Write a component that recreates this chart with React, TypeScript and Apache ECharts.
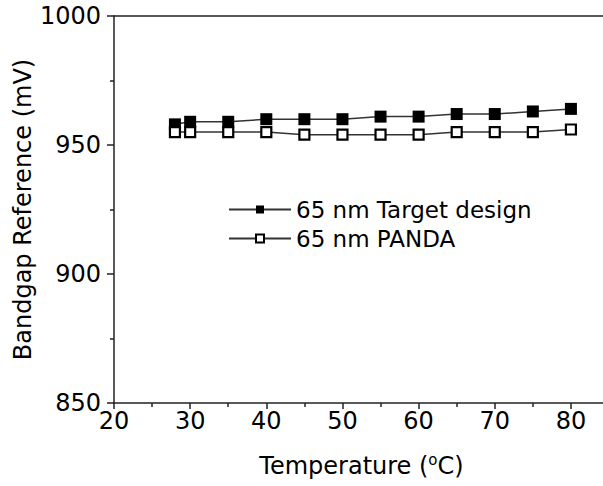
import React, { useEffect, useRef } from "react";
import * as echarts from "echarts";

const temperatures = [28, 30, 35, 40, 45, 50, 55, 60, 65, 70, 75, 80];
const targetDesign = [958, 959, 959, 960, 960, 960, 961, 961, 962, 962, 963, 964];
const panda = [955, 955, 955, 955, 954, 954, 954, 954, 955, 955, 955, 956];
const seriesNames = ["65 nm Target design", "65 nm PANDA"];

export default function App() {
  const ref = useRef<HTMLDivElement>(null);
  useEffect(() => {
    if (!ref.current) return;
    const chart = echarts.init(ref.current, undefined, { renderer: "svg" });
    const font = "'DejaVu Sans', sans-serif";
    const axisLine = { show: true, lineStyle: { color: "#222", width: 1.5 } };
    chart.setOption({
      animation: false,
      backgroundColor: "#fff",
      grid: { left: 114, top: 16, bottom: 83, right: -6, containLabel: false, outerBoundsMode: "none" },
      legend: {
        orient: "vertical",
        left: 223,
        top: 193,
        itemWidth: 62,
        itemHeight: 10,
        itemGap: 6,
        textStyle: { fontFamily: font, fontSize: 23, color: "#000", padding: [0, 0, 0, 0] },
        data: seriesNames,
      },
      xAxis: [
        {
          type: "value",
          min: 20,
          max: 85,
          interval: 10,
          axisLine,
          axisTick: { show: true, length: 6, inside: false, lineStyle: { color: "#222", width: 1.5 } },
          minorTick: { show: true, splitNumber: 2, length: 4, lineStyle: { color: "#222", width: 1.5 } },
          splitLine: { show: false },
          axisLabel: {
            fontFamily: font,
            fontSize: 24,
            color: "#000",
            margin: 6,
            showMaxLabel: false,
            formatter: (v: number) => (v > 80 ? "" : String(v)),
          },
          name: "{a|Temperature (}{s|o}{a|C)}",
          nameLocation: "middle",
          nameGap: 49,
          nameTextStyle: {
            rich: {
              a: { fontFamily: font, fontSize: 24, color: "#000" },
              s: { fontFamily: font, fontSize: 15, color: "#000", verticalAlign: "top", padding: [0, 0, 12, 0] },
            },
          },
        },
        {
          type: "value",
          position: "top",
          min: 20,
          max: 85,
          axisLine,
          axisTick: { show: false },
          axisLabel: { show: false },
          splitLine: { show: false },
        },
      ],
      yAxis: {
        type: "value",
        min: 850,
        max: 1000,
        interval: 50,
        axisLine,
        axisTick: { show: true, length: 7, lineStyle: { color: "#222", width: 1.5 } },
        minorTick: { show: true, splitNumber: 2, length: 4, lineStyle: { color: "#222", width: 1.5 } },
        splitLine: { show: false },
        axisLabel: { fontFamily: font, fontSize: 24, color: "#000", margin: 13, formatter: (v: number) => String(v) },
        name: "Bandgap Reference (mV)",
        nameLocation: "middle",
        nameGap: 79,
        nameMoveOverlap: false,
        nameTextStyle: { fontFamily: font, fontSize: 24, color: "#000" },
      },
      series: [
        {
          name: seriesNames[0],
          type: "line",
          data: temperatures.map((t, i) => [t, targetDesign[i]]),
          symbol: "rect",
          symbolSize: 12,
          itemStyle: { color: "#000", borderColor: "#000", borderWidth: 0 },
          lineStyle: { color: "#333", width: 1.5 },
        },
        {
          name: seriesNames[1],
          type: "line",
          data: temperatures.map((t, i) => [t, panda[i]]),
          symbol: "rect",
          symbolSize: 10,
          itemStyle: { color: "#fff", borderColor: "#000", borderWidth: 2.2 },
          lineStyle: { color: "#333", width: 1.5 },
        },
      ],
    });
    return () => chart.dispose();
  }, []);
  return <div ref={ref} style={{ width: 603, height: 486, position: "absolute", left: 0, top: 0 }} />;
}
